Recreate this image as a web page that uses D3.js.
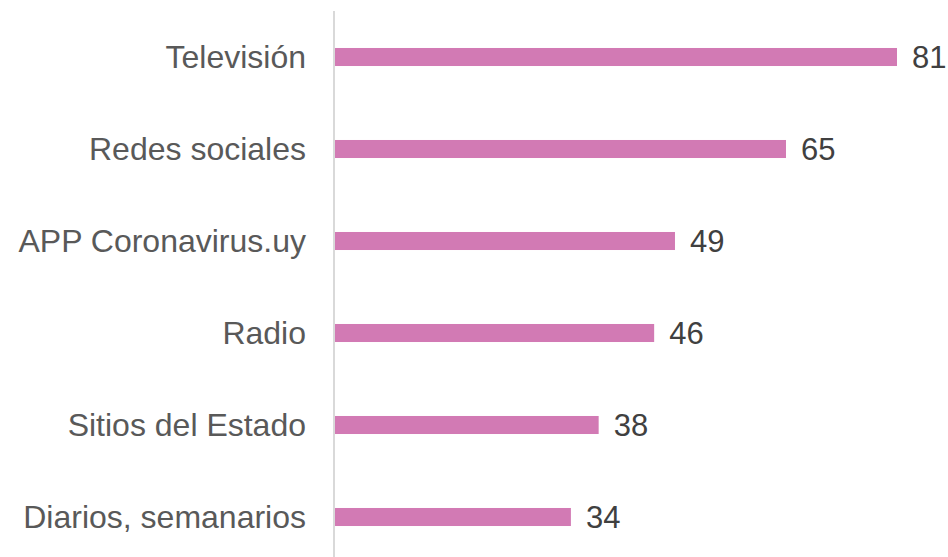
<!DOCTYPE html>
<html>
<head>
<meta charset="utf-8">
<script src="https://cdn.jsdelivr.net/npm/d3@7"></script>
<style>
html,body{margin:0;padding:0;background:#fff;}
svg{display:block;}
</style>
</head>
<body>
<svg id="chart" width="948" height="557"></svg>
<script>
const categories = ["Televisión", "Redes sociales", "APP Coronavirus.uy", "Radio", "Sitios del Estado", "Diarios, semanarios"];
const values = [81, 65, 49, 46, 38, 34];

const svg = d3.select("#chart");

const x = d3.scaleLinear().domain([0, 81]).range([335, 897]);
const y = d3.scaleBand().domain(categories).range([11, 563]).paddingInner(0.804).paddingOuter(0.402);

// bars
svg.append("g").selectAll("rect")
  .data(categories)
  .join("rect")
  .attr("x", x(0))
  .attr("y", d => y(d))
  .attr("width", (d, i) => x(values[i]) - x(0))
  .attr("height", y.bandwidth())
  .attr("fill", "#d27ab4");

// axis line
svg.append("line")
  .attr("x1", 334).attr("x2", 334)
  .attr("y1", 11).attr("y2", 563)
  .attr("stroke", "#d9d9d9").attr("stroke-width", 2);

// category labels
svg.append("g").selectAll("text")
  .data(categories)
  .join("text")
  .attr("x", 306)
  .attr("y", d => y(d) + y.bandwidth() / 2)
  .attr("dy", "0.35em")
  .attr("text-anchor", "end")
  .attr("font-family", "Liberation Sans, Arial, sans-serif")
  .attr("font-size", 32)
  .attr("fill", "#595959")
  .text(d => d);

// value labels
svg.append("g").selectAll("text")
  .data(categories)
  .join("text")
  .attr("x", (d, i) => x(values[i]) + 15)
  .attr("y", d => y(d) + y.bandwidth() / 2)
  .attr("dy", "0.35em")
  .attr("text-anchor", "start")
  .attr("font-family", "Liberation Sans, Arial, sans-serif")
  .attr("font-size", 31)
  .attr("fill", "#404040")
  .text((d, i) => values[i]);
</script>
</body>
</html>
